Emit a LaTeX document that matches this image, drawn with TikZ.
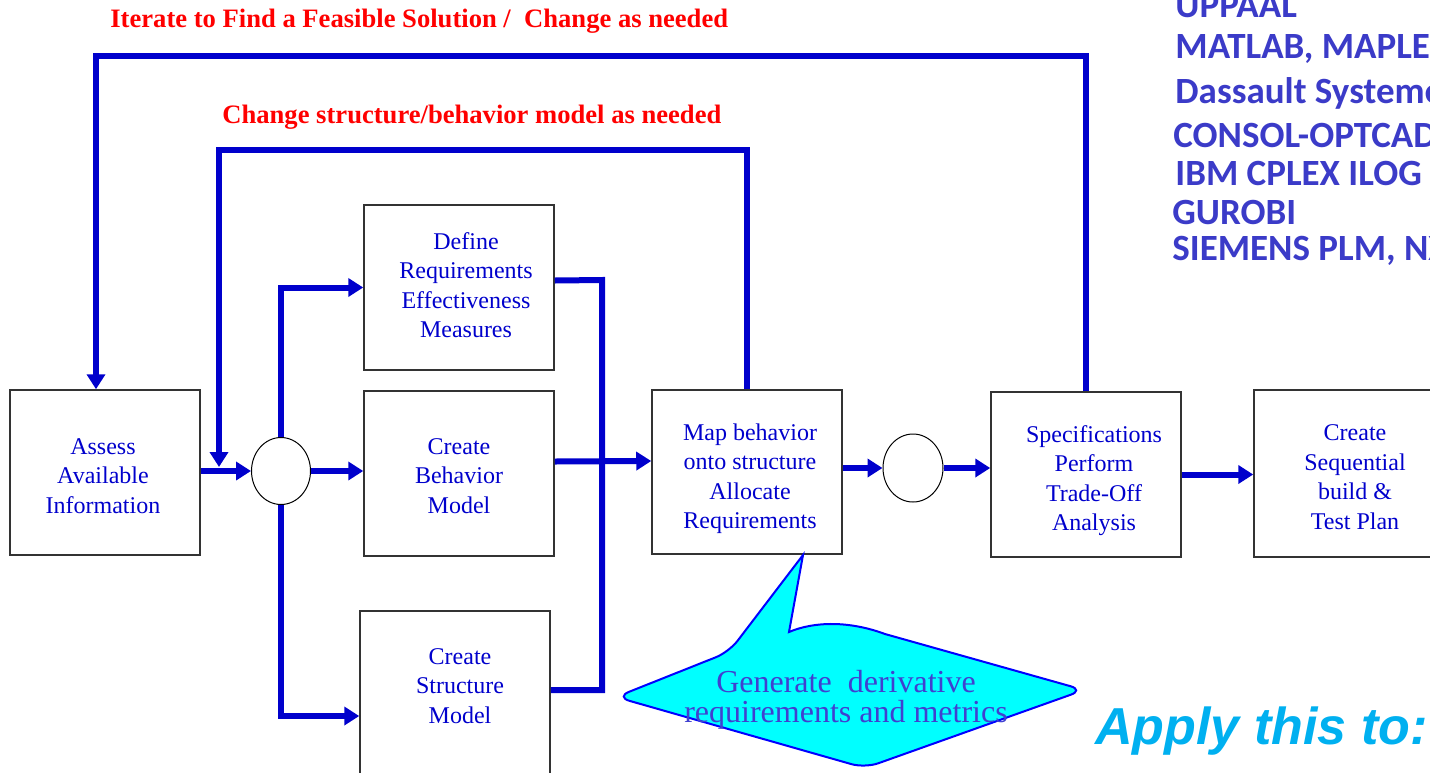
\documentclass[tikz,border=0pt]{standalone}
\usepackage{fontspec}
\setmainfont{Liberation Serif}
\newfontfamily\carlitofont{Carlito}
\newfontfamily\arialfont{Liberation Sans}
\usetikzlibrary{arrows.meta,calc,shapes.geometric}
\definecolor{flowblue}{HTML}{0000CC}
\definecolor{toolblue}{HTML}{3B3BC8}
\definecolor{applyblue}{HTML}{00B0F0}
\definecolor{calloutblue}{HTML}{4040D0}
\definecolor{boxgray}{HTML}{333333}
\definecolor{calloutfill}{HTML}{00FFFF}
\definecolor{calloutedge}{HTML}{0000FF}
\begin{document}
\begin{tikzpicture}[x=0.5pt,y=-0.5pt,
 box/.style={draw=boxgray, line width=0.75pt, minimum width=95pt, minimum height=82.5pt, inner sep=0pt},
 txt/.style={align=center, text=flowblue, font=\fontsize{12}{14.75}\selectfont, inner sep=0pt},
 junction/.style={ellipse, draw=black, line width=0.5pt, minimum width=29.5pt, minimum height=33.5pt, inner sep=0pt, fill=white},
 flow/.style={draw=flowblue, line width=3pt, -{Triangle[length=7.5pt,width=9pt]}},
 flowline/.style={draw=flowblue, line width=3pt},
 redlabel/.style={text=red, font=\fontsize{13.3}{16}\selectfont\bfseries, anchor=base west, inner sep=0pt},
 tool/.style={text=toolblue, font=\carlitofont\bfseries\fontsize{18.5}{22}\selectfont, anchor=base west, inner sep=0pt},
 callout/.style={draw=calloutedge, fill=calloutfill, line width=1pt},
]
\useasboundingbox (0,0) rectangle (1430,772);
\clip (0,0) rectangle (1430,772);

% boxes
\node[box] (assess) at (105,472.5) {};
\node[txt] (assesstxt) at (103,476) {Assess\\Available\\Information};
\node[box] (define) at (459,287.5) {};
\node[txt] (definetxt) at (466,285) {Define\\Requirements\\Effectiveness\\Measures};
\node[box] (behav) at (459,473.5) {};
\node[txt] (behavtxt) at (459,476) {Create\\Behavior\\Model};
\node[box, minimum height=105pt] (struct) at (455,716) {};
\node[txt] (structtxt) at (460,686) {Create\\Structure\\Model};
\node[box, minimum height=82pt] (map) at (747,472) {};
\node[txt] (maptxt) at (750,478.5) {Map behavior\\onto structure\\Allocate\\Requirements};
\node[box] (spec) at (1086,474.5) {};
\node[txt] (spectxt) at (1094,480.5) {Specifications\\Perform\\Trade-Off\\Analysis};
\node[box, minimum height=83.5pt] (seq) at (1349,473.5) {};
\node[txt] (seqtxt) at (1355,477) {Create\\Sequential\\build \&\\Test Plan};

% junctions
\node[junction] (c1) at (281,471) {};
\node[junction, minimum width=30pt, minimum height=34pt] (c2) at (913,468) {};

\coordinate (join) at (219,467);

% loops
\draw[flow] (spec.north) |- (96,56) -- ($(assess.north)+(-9,0)$);
\draw[flow] (map.north) |- (219,150) -- (join);

% flows
\draw[flow] (assess.east |- c1.west) -- (c1.west);
\draw[flow] (c1.east) -- (c1.east -| behav.west);
\draw[flow] (c1.north) |- (define.west);
\draw[flow] (c1.south) |- (struct.west);
\draw[flowline] ($(define.east)+(0,-7)$) -- (602,280) |- ($(struct.east)+(0,-26)$);
\draw[flow] ($(behav.east)+(0,-12)$) -- ($(map.west)+(0,-11)$);
\draw[flow] (map.east |- c2.west) -- (c2.west);
\draw[flow] (c2.east) -- (c2.east -| spec.west);
\draw[flow] (spec.east) -- (spec.east -| seq.west);

% callout
\draw[callout] (803,555) -- (789,632) .. controls (815,621) and (850,621) .. (885,634)
  [rounded corners=7pt] -- (1084,690) -- (865,768) -- (616,697) -- (729,652) [sharp corners] -- cycle;
\node[text=calloutblue, font=\fontsize{16}{15}\selectfont, align=center, inner sep=0pt] (callouttxt) at (846,700) {Generate~~derivative\\requirements and metrics};

% labels
\node[redlabel] (lab1) at (110,27) {Iterate to Find a Feasible Solution /~~Change as needed};
\node[redlabel] (lab2) at (222,123) {Change structure/behavior model as needed};

% tools
\node[tool] (t1) at (1175,17) {UPPAAL};
\node[tool] (t2) at (1175,58) {MATLAB, MAPLE};
\node[tool] (t3) at (1175,103) {Dassault Systemes};
\node[tool] (t4) at (1173,147) {CONSOL-OPTCAD};
\node[tool] (t5) at (1175,185) {IBM CPLEX ILOG};
\node[tool] (t6) at (1172,224) {GUROBI};
\node[tool] (t7) at (1172,260) {SIEMENS PLM, NX};

\node[anchor=base west, inner sep=0pt, text=applyblue, font=\arialfont\bfseries\itshape\fontsize{26}{30}\selectfont] (apply) at (1095,744) {Apply this to:};
\end{tikzpicture}
\end{document}
